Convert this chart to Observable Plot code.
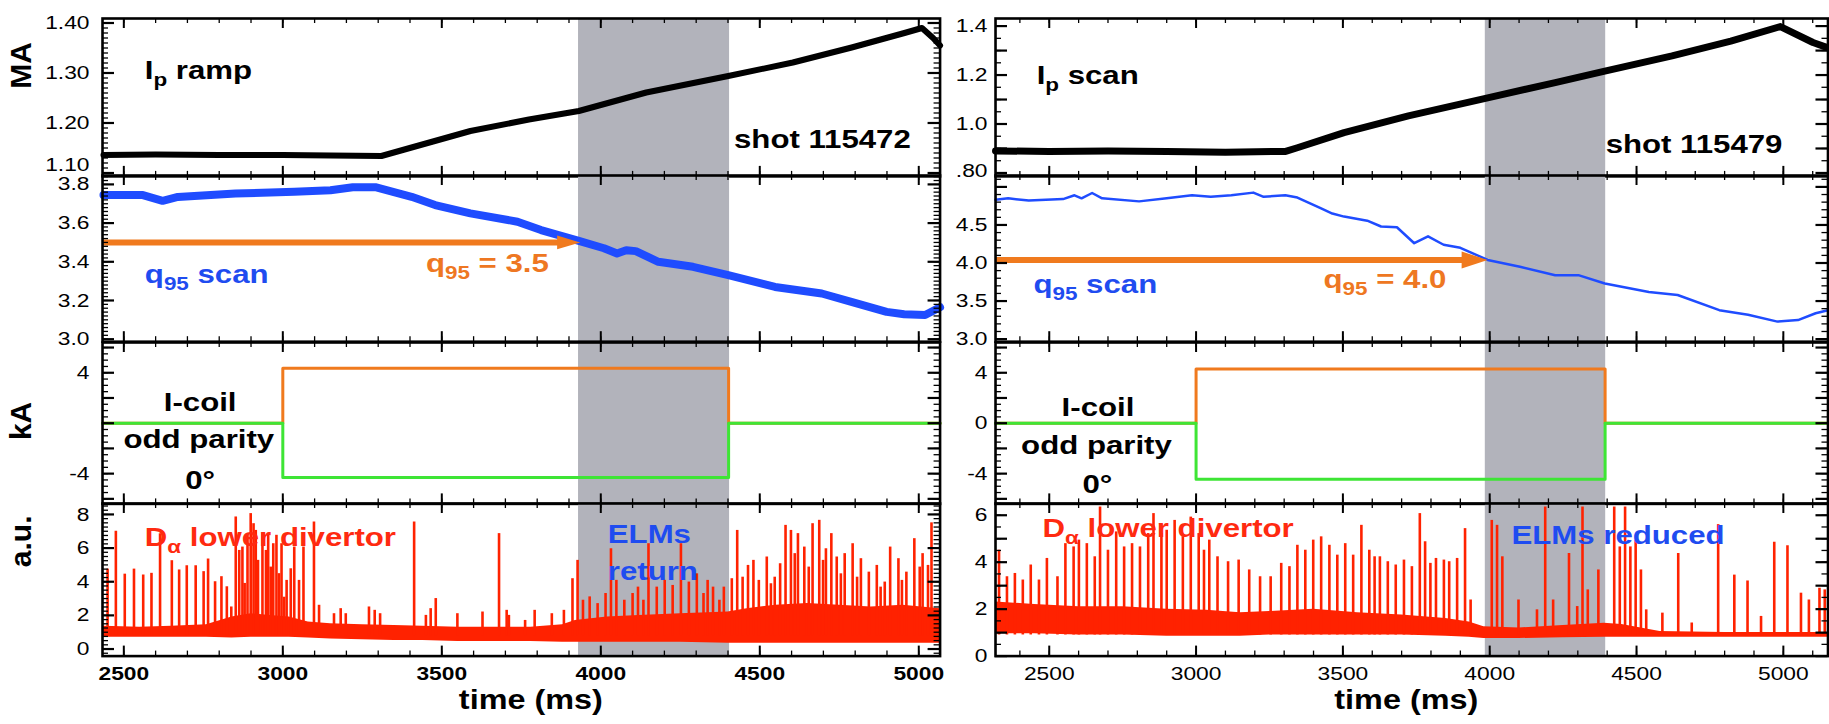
<!DOCTYPE html>
<html><head><meta charset="utf-8">
<script src="https://cdn.jsdelivr.net/npm/d3@7"></script>
<script src="https://cdn.jsdelivr.net/npm/@observablehq/plot@0.6"></script>
<style>
body{margin:0;background:#fff;}
#fig{position:relative;width:1829px;height:724px;overflow:hidden;background:#fff;}
#fig svg{position:absolute;overflow:visible !important;max-width:none !important;background:none;}
</style></head><body><div id="fig"></div>
<script>
// ---------------- data ----------------
const xTickLabels = [2500, 3000, 3500, 4000, 4500, 5000];
const unitLabels = ["MA", "", "kA", "a.u."];
const timeLabel = "time (ms)";

// plasma current (MA)
const ipLeft = [[2436,1.136],[2600,1.137],[2800,1.136],[3000,1.136],[3150,1.135],[3310,1.134],[3405,1.151],[3590,1.184],[3774,1.207],[3931,1.224],[4143,1.261],[4401,1.294],[4604,1.321],[4789,1.351],[4955,1.38],[5010,1.39],[5045,1.37],[5067,1.355]];
const ipRight = [[2317,0.89],[2500,0.888],[2700,0.89],[2900,0.888],[3100,0.885],[3305,0.888],[3345,0.903],[3504,0.965],[3723,1.033],[3993,1.107],[4223,1.169],[4392,1.216],[4621,1.278],[4821,1.339],[4990,1.398],[5101,1.333],[5150,1.312]];

// q95
const q95Left = [[2436,3.745],[2560,3.745],[2622,3.715],[2670,3.735],[2851,3.753],[3036,3.762],[3150,3.77],[3220,3.785],[3294,3.785],[3405,3.736],[3479,3.693],[3590,3.65],[3738,3.607],[3812,3.564],[3931,3.508],[4010,3.47],[4051,3.443],[4080,3.46],[4110,3.455],[4181,3.40],[4290,3.374],[4401,3.331],[4548,3.27],[4695,3.236],[4788,3.193],[4899,3.141],[4954,3.129],[5020,3.125],[5067,3.165]];
const q95Right = [[2317,4.83],[2360,4.85],[2430,4.82],[2547,4.84],[2586,4.89],[2610,4.85],[2646,4.92],[2680,4.85],[2806,4.81],[2900,4.85],[2986,4.89],[3050,4.87],[3120,4.89],[3195,4.925],[3230,4.87],[3304,4.89],[3345,4.86],[3424,4.72],[3464,4.65],[3504,4.61],[3583,4.556],[3630,4.48],[3684,4.47],[3743,4.26],[3790,4.35],[3843,4.24],[3900,4.2],[3993,4.04],[4103,3.95],[4223,3.84],[4302,3.84],[4392,3.73],[4542,3.62],[4640,3.58],[4782,3.38],[4880,3.32],[4980,3.23],[5050,3.25],[5110,3.34],[5152,3.38]];
const q95ArrowLeft = [{y: 3.5, from: 2436, to: 3935}];
const q95ArrowRight = [{y: 4.04, from: 2317, to: 3993}];

// I-coil currents (kA)
const iCoilOrangeLeft = [[2433,0],[3000,0],[3000,4.35],[4402,4.35],[4402,0],[5067,0]];
const iCoilGreenLeft  = [[2433,0],[3000,0],[3000,-4.3],[4402,-4.3],[4402,0],[5067,0]];
const iCoilOrangeRight = [[2317,0],[3000,0],[3000,4.3],[4393,4.3],[4393,0],[5152,0]];
const iCoilGreenRight  = [[2317,0],[3000,0],[3000,-4.45],[4393,-4.45],[4393,0],[5152,0]];

// D-alpha: dense band [t, low, high] and ELM spikes [t, peak]
const daBandLeft = [[2436,0.7,1.35],[2550,0.7,1.3],[2650,0.7,1.35],[2760,0.7,1.45],[2840,0.65,1.9],[2900,0.7,2.1],[2960,0.7,2.0],[3020,0.7,1.9],[3080,0.65,1.6],[3150,0.6,1.5],[3250,0.55,1.45],[3350,0.5,1.4],[3440,0.5,1.35],[3550,0.45,1.3],[3650,0.45,1.3],[3780,0.45,1.3],[3880,0.4,1.45],[3920,0.4,1.7],[4020,0.4,1.9],[4120,0.4,2.0],[4250,0.4,2.1],[4400,0.35,2.2],[4460,0.35,2.4],[4550,0.35,2.6],[4650,0.35,2.7],[4750,0.35,2.6],[4850,0.35,2.5],[4950,0.35,2.6],[5067,0.35,2.4]];
const daSpikesLeft = [[2449,4.75],[2475,7.0],[2503,4.45],[2532,4.75],[2561,4.4],[2587,4.5],[2614,6.85],[2651,5.25],[2674,4.7],[2698,4.95],[2726,4.95],[2751,4.6],[2765,5.35],[2787,4.0],[2807,4.3],[2824,3.7],[2838,2.5],[2852,7.85],[2863,5.86],[2873,6.06],[2880,3.9],[2889,6.86],[2899,8.05],[2908,7.45],[2915,7.05],[2922,5.27],[2936,6.86],[2947,5.86],[2954,6.86],[2962,4.87],[2970,6.26],[2980,6.76],[2988,4.48],[2996,6.26],[3004,3.08],[3012,4.08],[3025,4.77],[3036,6.06],[3051,4.08],[3065,6.06],[3098,7.55],[3114,2.6],[3161,2.1],[3182,2.4],[3198,2.1],[3271,2.5],[3289,2.3],[3306,2.1],[3413,7.55],[3450,2.0],[3465,2.4],[3481,3.0],[3549,2.1],[3628,2.2],[3680,6.86],[3704,2.3],[3711,2.0],[3762,1.7],[3792,2.3],[3846,2.1],[3884,2.3],[3911,4.18],[3927,5.27],[3944,2.9],[3965,3.1],[3990,2.7],[4015,3.3],[4032,5.96],[4049,4.08],[4074,2.9],[4100,3.3],[4117,3.68],[4134,2.9],[4150,6.26],[4176,3.68],[4201,4.08],[4226,3.78],[4252,6.26],[4277,3.98],[4302,4.47],[4323,3.3],[4336,4.08],[4353,3.68],[4373,2.9],[4387,3.68],[4412,4.18],[4429,7.05],[4446,4.27],[4463,4.97],[4480,5.27],[4497,4.08],[4522,5.47],[4535,3.88],[4547,4.27],[4564,5.07],[4581,7.35],[4598,7.05],[4610,5.67],[4620,6.86],[4640,6.06],[4654,4.87],[4666,7.45],[4687,7.65],[4699,5.27],[4708,5.96],[4725,6.86],[4742,5.47],[4755,4.47],[4767,5.67],[4792,6.26],[4806,4.27],[4818,5.37],[4843,4.57],[4868,4.97],[4880,3.68],[4893,3.98],[4910,6.06],[4936,5.37],[4947,4.08],[4961,4.57],[4986,6.56],[5003,4.87],[5012,5.67],[5029,4.97],[5040,7.5]];
const daBandRight = [[2317,0.95,2.3],[2450,0.95,2.2],[2600,0.9,2.1],[2750,0.9,2.1],[2900,0.85,2.0],[3036,0.85,1.95],[3150,0.85,1.85],[3250,0.9,1.9],[3400,0.9,2.0],[3550,0.9,1.85],[3700,0.9,1.75],[3850,0.85,1.6],[3930,0.8,1.45],[3980,0.75,1.25],[4100,0.75,1.2],[4250,0.78,1.3],[4390,0.8,1.4],[4450,0.8,1.35],[4580,0.8,1.05],[4800,0.8,1.0],[5000,0.8,1.0],[5152,0.8,1.0]];
const daSpikesRight = [[2329,4.51],[2356,3.38],[2383,3.52],[2410,3.24],[2437,3.88],[2465,3.24],[2492,4.16],[2528,3.38],[2555,4.79],[2583,4.65],[2601,4.94],[2628,4.79],[2655,4.23],[2673,6.35],[2700,4.51],[2728,5.29],[2755,4.65],[2782,4.79],[2809,4.65],[2837,5.22],[2855,6.07],[2882,5.22],[2900,5.36],[2927,5.78],[2955,5.08],[2982,5.92],[3009,5.22],[3027,4.51],[3045,4.94],[3073,4.23],[3109,4.02],[3145,4.09],[3181,3.67],[3218,3.38],[3254,3.38],[3290,3.95],[3318,3.81],[3345,4.72],[3372,4.51],[3399,4.94],[3426,5.08],[3454,4.72],[3481,4.30],[3508,4.79],[3535,4.30],[3563,5.57],[3590,4.51],[3608,4.23],[3626,4.23],[3653,4.02],[3680,3.88],[3708,4.09],[3735,3.81],[3762,6.07],[3780,4.87],[3798,3.95],[3817,4.16],[3844,4.09],[3862,4.02],[3889,4.16],[3916,5.43],[3935,2.39],[4007,5.78],[4025,5.57],[4043,4.23],[4098,2.39],[4161,1.97],[4189,6.35],[4216,2.39],[4270,4.37],[4298,2.11],[4316,6.35],[4334,2.82],[4370,3.67],[4424,6.35],[4443,4.65],[4461,6.35],[4479,4.65],[4497,4.94],[4515,3.67],[4533,1.97],[4588,1.83],[4642,4.37],[4688,1.41],[4778,5.6],[4833,3.45],[4878,3.2],[4924,1.69],[4969,4.85],[5014,4.7],[5060,2.68],[5087,2.39],[5123,2.89],[5141,2.82]];

// annotations: [column, row, text, x (ms), y (data), anchor, colour]
const annotations = [
 ["L",0,"I_p ramp",2566,1.3046,"start","#000"],
 ["L",0,"shot 115472",4975,1.1666,"end","#000"],
 ["L",1,"q_95 scan",2566,3.3326,"start","blue"],
 ["L",1,"q_95 = 3.5",3450,3.391,"start","orange"],
 ["L",2,"I-coil",2740,1.63,"middle","#000"],
 ["L",2,"odd parity",2736,-1.33,"middle","#000"],
 ["L",2,"0°",2740,-4.53,"middle","#000"],
 ["L",3,"D_α lower divertor",2566,6.6,"start","red"],
 ["L",3,"ELMs",4022,6.77,"start","blue"],
 ["L",3,"return",4022,4.57,"start","blue"],
 ["R",0,"I_p scan",2457,1.196,"start","#000"],
 ["R",0,"shot 115479",4997,0.9155,"end","#000"],
 ["R",1,"q_95 scan",2446,3.71,"start","blue"],
 ["R",1,"q_95 = 4.0",3434,3.776,"start","orange"],
 ["R",2,"I-coil",2666,1.24,"middle","#000"],
 ["R",2,"odd parity",2661,-1.8,"middle","#000"],
 ["R",2,"0°",2664,-4.85,"middle","#000"],
 ["R",3,"D_α lower divertor",2477,5.43,"start","red"],
 ["R",3,"ELMs reduced",4074,5.15,"start","blue"]
];

// ---------------- styling / layout ----------------
const FONT = '"Liberation Sans", Arial, Helvetica, sans-serif';
const COLORS = {gray:"#b2b3bb", orange:"#f07a1e", green:"#3ee535", blue:"#1f4cff", red:"#ff2200"};
const textColor = c => c === "blue" ? "#1f4cf0" : c === "orange" ? "#ee7722" : c === "red" ? "#ff2a10" : c;
const STRETCH = 1.2;
const ROWS = [[17.5,175.4],[175.4,341.6],[341.6,503],[503,655.6]];
const COLS = {
  L: {frameL:101.7, frameR:939.3, xDomain:[2433,5067], shade:[3930,4405], timeX:3780, unitX:21,
      ip:ipLeft, ipW:6, q95:q95Left, q95W:8, arrow:q95ArrowLeft, headR:11.5, headH:0.6,
      orange:iCoilOrangeLeft, green:iCoilGreenLeft, band:daBandLeft, spikes:daSpikesLeft, spikeBase:0.8,
      pad:13, xWeight:"bold"},
  R: {frameL:995, frameR:1827.5, xDomain:[2317,5152], shade:[3985,4395], timeX:3716,
      ip:ipRight, ipW:7, q95:q95Right, q95W:2.5, arrow:q95ArrowRight, headR:13, headH:0.65,
      orange:iCoilOrangeRight, green:iCoilGreenRight, band:daBandRight, spikes:daSpikesRight, spikeBase:0.9,
      pad:8, xWeight:"normal"}
};
// "raised" lists tick labels drawn a little above their tick (as in the original)
const SPECS = {
  L: [
    {yDomain:[1.0932,1.409], labels:[1.2,1.3,1.4], raised:[1.1], fmt:d3.format(".2f"), major:0.1, minor:0.01, unitY:1.315},
    {yDomain:[2.987,3.846], labels:[3.0,3.2,3.4,3.6,3.8], fmt:d3.format(".1f"), major:0.2, minor:0.02},
    {yDomain:[-6.4,6.4], labels:[-4,4], fmt:d=>String(d), major:2, minor:0.5, unitY:0.18},
    {yDomain:[-0.42,8.65], labels:[0,2,4,6,8], fmt:d=>String(d), major:2, minor:0.25, unitY:6.4}
  ],
  R: [
    {yDomain:[0.786,1.431], labels:[1.0,1.2,1.4], raised:[0.8], fmt:d=> d===0.8 ? ".80" : d3.format(".1f")(d), major:0.1, minor:0.05},
    {yDomain:[2.966,5.15], labels:[3.0,3.5,4.0,4.5], fmt:d3.format(".1f"), major:0.5, minor:0.1},
    {yDomain:[-6.4,6.4], labels:[-4,0,4], fmt:d=>String(d), major:2, minor:0.5},
    {yDomain:[0,6.5], labels:[0,2,4,6], fmt:d=>String(d), major:1, minor:0.5}
  ]
};

function steps(domain, step) {
  const lo = Math.min(...domain), hi = Math.max(...domain);
  const a = Math.ceil(lo/step - 1e-9), b = Math.floor(hi/step + 1e-9);
  return d3.range(a, b + 1).map(i => +(i*step).toFixed(6));
}
function headSymbol(h) {
  return {draw(ctx, size) {
    const r = Math.sqrt(size / Math.PI);
    ctx.moveTo(r, 0); ctx.lineTo(-r, -h*r); ctx.lineTo(-r, h*r); ctx.closePath();
  }};
}

const fig = document.getElementById("fig");
const svgs = [];

function addPanel(key, row) {
  const col = COLS[key], spec = SPECS[key][row];
  const [ft, fb] = ROWS[row];
  const fw = col.frameR - col.frameL, fh = fb - ft;
  const mL = key === "L" ? 105 : 60, mR = 8, mT = 8, mB = row === 3 ? 75 : 8;
  const X = d => d[0], Y = d => d[1];
  const marks = [];
  marks.push(Plot.rect([col.shade], {x1: d => d[0], x2: d => d[1], fill: COLORS.gray}));
  if (row === 0) {
    marks.push(Plot.line(col.ip, {x: X, y: Y, stroke: "black", strokeWidth: col.ipW, strokeLinejoin: "round"}));
  } else if (row === 1) {
    marks.push(Plot.line(col.q95, {x: X, y: Y, stroke: COLORS.blue, strokeWidth: col.q95W, strokeLinejoin: "round"}));
    marks.push(Plot.ruleY(col.arrow, {y: "y", x1: "from", x2: "to", insetRight: col.headR + 2, stroke: COLORS.orange, strokeWidth: 6}));
    marks.push(Plot.dot(col.arrow, {x: "to", y: "y", r: col.headR, dx: -col.headR, symbol: headSymbol(col.headH), fill: COLORS.orange, stroke: "none"}));
  } else if (row === 2) {
    marks.push(Plot.line(col.orange, {x: X, y: Y, stroke: COLORS.orange, strokeWidth: 3}));
    marks.push(Plot.line(col.green, {x: X, y: Y, stroke: COLORS.green, strokeWidth: 3}));
  } else {
    marks.push(Plot.areaY(col.band, {x: X, y1: d => d[1], y2: d => d[2], fill: COLORS.red}));
    marks.push(Plot.ruleX(col.spikes, {x: X, y1: () => col.spikeBase, y2: Y, stroke: COLORS.red, strokeWidth: 2.6}));
  }
  for (const a of annotations.filter(a => a[0] === key && a[1] === row)) {
    marks.push(Plot.text([a], {x: d => d[3], y: d => d[4], text: d => d[2], textAnchor: a[5], lineAnchor: "middle",
      fill: textColor(a[6]), fontSize: 26, fontWeight: "bold", fontFamily: FONT}));
  }
  // ticks (inward, all four sides)
  const yMaj = steps(spec.yDomain, spec.major), yMin = steps(spec.yDomain, spec.minor);
  const xMaj = steps(col.xDomain, 500), xMin = steps(col.xDomain, 100);
  const tk = {stroke: "black"};
  marks.push(Plot.tickY(yMin, {y: d => d, insetRight: fw - 6, strokeWidth: 1.3, ...tk}));
  marks.push(Plot.tickY(yMaj, {y: d => d, insetRight: fw - 12, strokeWidth: 2.2, ...tk}));
  marks.push(Plot.tickY(yMin, {y: d => d, insetLeft: fw - 6, strokeWidth: 1.3, ...tk}));
  marks.push(Plot.tickY(yMaj, {y: d => d, insetLeft: fw - 12, strokeWidth: 2.2, ...tk}));
  marks.push(Plot.tickX(xMin, {x: d => d, insetBottom: fh - 5, strokeWidth: 1.3, ...tk}));
  marks.push(Plot.tickX(xMaj, {x: d => d, insetBottom: fh - 10, strokeWidth: 2, ...tk}));
  marks.push(Plot.tickX(xMin, {x: d => d, insetTop: fh - 5, strokeWidth: 1.3, ...tk}));
  marks.push(Plot.tickX(xMaj, {x: d => d, insetTop: fh - 10, strokeWidth: 2, ...tk}));
  marks.push(Plot.frame({stroke: "black", strokeWidth: 2.6}));
  const axisOpts = {anchor: "left", label: null, tickSize: 0, tickPadding: col.pad, tickFormat: spec.fmt,
    fontSize: 19, fontFamily: FONT, fill: "black"};
  marks.push(Plot.axisY(spec.labels, axisOpts));
  if (spec.raised) marks.push(Plot.axisY(spec.raised, {...axisOpts, dy: key === "L" ? -8 : -2}));
  if (row === 3) {
    marks.push(Plot.axisX(xTickLabels, {anchor: "bottom", label: null, tickSize: 0, tickPadding: 10, tickFormat: d => String(d),
      fontSize: 19, fontWeight: col.xWeight, fontFamily: FONT, fill: "black"}));
    marks.push(Plot.text([timeLabel], {x: () => col.timeX, frameAnchor: "bottom", lineAnchor: "middle", dy: 44, text: d => d,
      fontSize: 27, fontWeight: "bold", fontFamily: FONT, fill: "black"}));
  }
  if (key === "L" && unitLabels[row]) {
    marks.push(Plot.text([unitLabels[row]], {y: () => spec.unitY, frameAnchor: "left", textAnchor: "middle", lineAnchor: "middle",
      dx: -(col.frameL - col.unitX), text: d => d, rotate: -90, fontSize: 30, fontWeight: "bold", fontFamily: FONT, fill: "black"}));
  }
  const svg = Plot.plot({
    width: fw + mL + mR, height: fh + mT + mB,
    marginLeft: mL, marginRight: mR, marginTop: mT, marginBottom: mB,
    x: {domain: col.xDomain, axis: null, label: null},
    y: {domain: spec.yDomain, axis: null, label: null},
    style: {fontFamily: FONT, fontSize: "19px", background: "none", color: "black"},
    marks
  });
  svg.style.left = (col.frameL - mL) + "px";
  svg.style.top = (ft - mT) + "px";
  fig.appendChild(svg);
  svgs.push(svg);
}

for (const key of ["L", "R"]) for (let r = 0; r < 4; r++) addPanel(key, r);

// subscripts written as a_b, then a horizontal stretch of the lettering like the original
const NS = "http://www.w3.org/2000/svg";
for (const svg of svgs) {
  svg.querySelectorAll("text").forEach(t => {
    const s = t.textContent;
    const m = s.match(/^(.*?)_(\S+)(.*)$/);
    if (!m) return;
    const fs = parseFloat(getComputedStyle(t).fontSize) || 26;
    while (t.firstChild) t.removeChild(t.firstChild);
    const a = document.createElementNS(NS, "tspan"); a.textContent = m[1];
    const b = document.createElementNS(NS, "tspan"); b.textContent = m[2];
    b.setAttribute("font-size", fs * 0.72); b.setAttribute("dy", fs * 0.27);
    const c = document.createElementNS(NS, "tspan"); c.textContent = m[3];
    c.setAttribute("dy", -fs * 0.27);
    t.append(a, b, c);
  });
  svg.querySelectorAll("text").forEach(t => {
    const tr = t.getAttribute("transform") || "";
    if (/rotate\((?!0\))/.test(tr)) return;
    const bb = t.getBBox();
    const anc = getComputedStyle(t).textAnchor;
    const x0 = anc === "end" ? bb.x + bb.width : anc === "middle" ? bb.x + bb.width / 2 : bb.x;
    t.setAttribute("transform", `${tr} translate(${x0},0) scale(${STRETCH},1) translate(${-x0},0)`);
  });
}
</script></body></html>
